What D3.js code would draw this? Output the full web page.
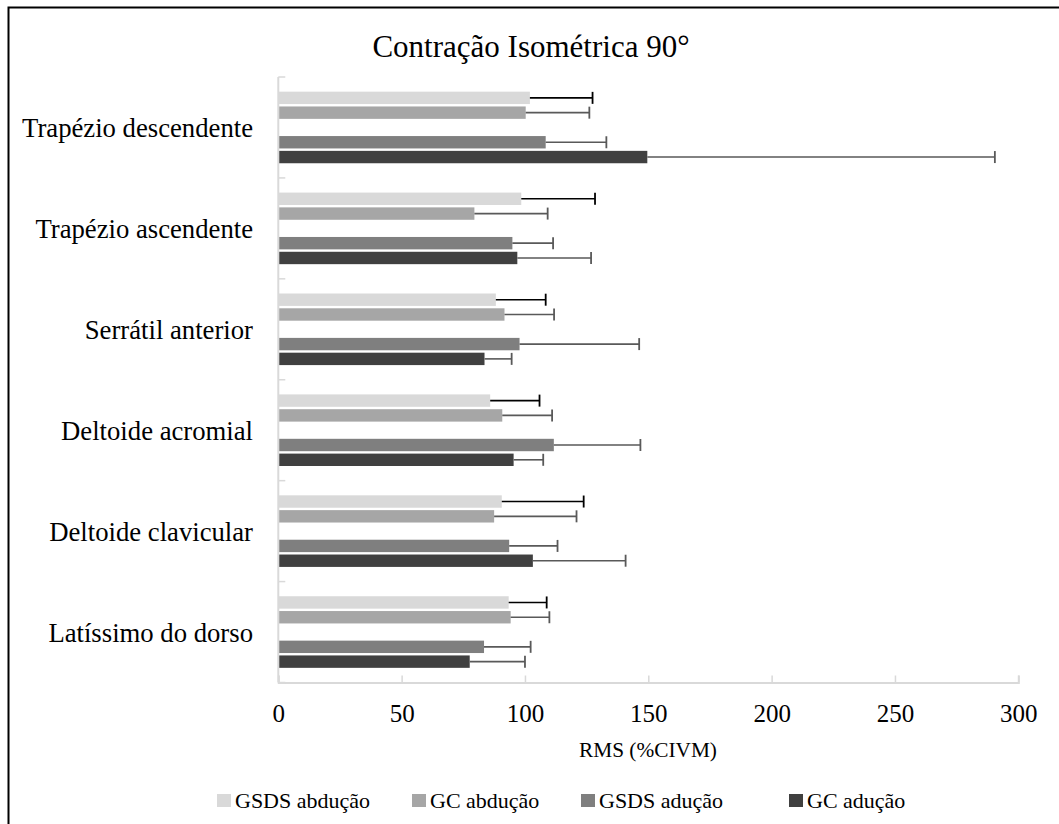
<!DOCTYPE html>
<html>
<head>
<meta charset="utf-8">
<script src="https://cdn.jsdelivr.net/npm/d3@7"></script>
<style>
  html, body { margin: 0; padding: 0; background: #fff; }
</style>
</head>
<body>
<svg id="chart" width="1059" height="824" font-family="'Liberation Serif', 'Times New Roman', serif"></svg>
<script>
// ---- data ----
const title = "Contração Isométrica 90°";
const axisTitle = "RMS (%CIVM)";
const categories = ["Trapézio descendente", "Trapézio ascendente", "Serrátil anterior",
                    "Deltoide acromial", "Deltoide clavicular", "Latíssimo do dorso"];
const seriesNames = ["GSDS abdução", "GC abdução", "GSDS adução", "GC adução"];
const gsdsAbducao   = [102.0, 98.5, 88.2, 85.9, 90.6, 93.4];
const gcAbducao     = [100.3, 79.5, 91.7, 90.8, 87.5, 94.2];
const gsdsAducao    = [108.4, 94.9, 97.8, 111.7, 93.6, 83.4];
const gcAducao      = [149.6, 96.9, 83.6, 95.4, 103.2, 77.6];
const gsdsAbducaoSD = [25.4, 29.9, 20.2, 20.0, 33.2, 15.4];
const gcAbducaoSD   = [25.8, 29.7, 20.1, 20.2, 33.4, 15.7];
const gsdsAducaoSD  = [24.6, 16.5, 48.5, 35.1, 19.6, 18.9];
const gcAducaoSD    = [140.9, 29.9, 11.0, 12.0, 37.6, 22.4];
const xTicks = [0, 50, 100, 150, 200, 250, 300];

const seriesColors = ["#d9d9d9", "#a6a6a6", "#7f7f7f", "#404040"];
const errColors = ["#000000", "#595959", "#595959", "#595959"];

const means = [gsdsAbducao, gcAbducao, gsdsAducao, gcAducao];
const sds = [gsdsAbducaoSD, gcAbducaoSD, gsdsAducaoSD, gcAducaoSD];

const FONT = "'Liberation Serif', 'Times New Roman', serif";

// ---- layout ----
const svg = d3.select("#chart");
const plot = { left: 278.3, right: 1018.3, top: 77, bottom: 682.5 };

const x = d3.scaleLinear().domain([0, 300]).range([plot.left, plot.right]);
const y = d3.scaleBand().domain(categories).range([plot.top, plot.bottom]).padding(0);
// slots within a category: the two abduction bars, a gap, the two adduction bars
const slots = [seriesNames[0], seriesNames[1], "_gap", seriesNames[2], seriesNames[3]];
const ySub = d3.scaleBand().domain(slots).range([0, y.bandwidth()]).paddingInner(0).paddingOuter(0.91);

function txt(sel, size) {
  return sel.style("font-family", FONT).style("font-size", size + "px").attr("fill", "#000");
}

// outer frame
svg.append("rect").attr("x", 8.5).attr("y", 7.5).attr("width", 1100).attr("height", 900)
  .attr("fill", "none").attr("stroke", "#000").attr("stroke-width", 2);

// title
txt(svg.append("text").attr("x", 531).attr("y", 57).attr("text-anchor", "middle"), 31).text(title);

// bars
const rows = [];
categories.forEach((c, i) => {
  seriesNames.forEach((s, j) => {
    rows.push({ cat: c, series: s, j: j, mean: means[j][i], sd: sds[j][i] });
  });
});

const barInset = 1.2;
svg.append("g").selectAll("rect").data(rows).join("rect")
  .attr("x", x(0))
  .attr("y", d => y(d.cat) + ySub(d.series) + barInset)
  .attr("width", d => x(d.mean) - x(0))
  .attr("height", ySub.bandwidth() - 2 * barInset)
  .attr("fill", d => seriesColors[d.j]);

// error bars
const eg = svg.append("g");
rows.forEach(d => {
  const cy = y(d.cat) + ySub(d.series) + ySub.bandwidth() / 2;
  const x1 = x(d.mean), x2 = x(d.mean + d.sd);
  eg.append("line").attr("x1", x1).attr("x2", x2).attr("y1", cy).attr("y2", cy)
    .attr("stroke", errColors[d.j]).attr("stroke-width", 1.6);
  eg.append("line").attr("x1", x2).attr("x2", x2).attr("y1", cy - 6).attr("y2", cy + 6)
    .attr("stroke", errColors[d.j]).attr("stroke-width", 1.8);
});

// x axis
const axisColor = "#d9d9d9";
const xAxis = svg.append("g").attr("transform", `translate(0,${plot.bottom})`)
  .call(d3.axisBottom(x).tickValues(xTicks).tickSize(-7).tickPadding(22).tickFormat(d3.format("d")));
xAxis.attr("font-family", null);
xAxis.select(".domain").attr("stroke", axisColor).attr("stroke-width", 2);
xAxis.selectAll(".tick line").attr("stroke", axisColor).attr("stroke-width", 1.5);
txt(xAxis.selectAll(".tick text"), 25);

// y axis
const boundaries = categories.map(c => y(c)).concat([plot.bottom]);
svg.append("line").attr("x1", plot.left).attr("x2", plot.left).attr("y1", plot.top).attr("y2", plot.bottom)
  .attr("stroke", axisColor).attr("stroke-width", 2);
svg.append("g").selectAll("line").data(boundaries).join("line")
  .attr("x1", plot.left).attr("x2", plot.left + 7).attr("y1", d => d).attr("y2", d => d)
  .attr("stroke", axisColor).attr("stroke-width", 1.5);
txt(svg.append("g").selectAll("text").data(categories).join("text")
  .attr("x", 253).attr("y", d => y(d) + y.bandwidth() / 2 + 10)
  .attr("text-anchor", "end"), 26.7).text(d => d);

// axis title
txt(svg.append("text").attr("x", 648).attr("y", 757).attr("text-anchor", "middle"), 21.3).text(axisTitle);

// legend
const legendX = [217, 412, 581, 789];
const lg = svg.append("g");
seriesNames.forEach((s, j) => {
  lg.append("rect").attr("x", legendX[j]).attr("y", 794).attr("width", 14).attr("height", 13)
    .attr("fill", seriesColors[j]);
  txt(lg.append("text").attr("x", legendX[j] + 18).attr("y", 808), 22).text(s);
});
</script>
</body>
</html>
